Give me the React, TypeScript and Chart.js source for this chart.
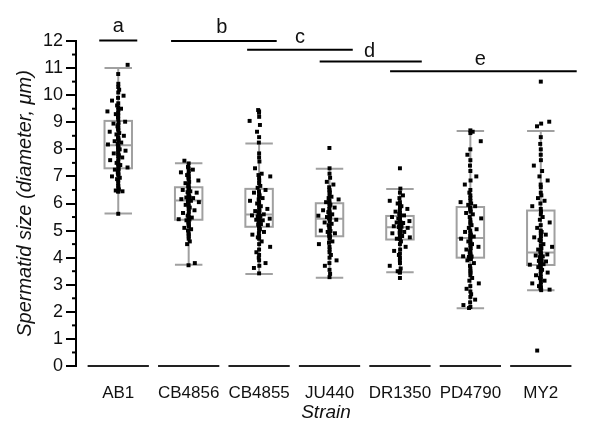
import React, { useEffect, useRef } from "react";
import { Chart, registerables } from "chart.js";

Chart.register(...registerables);

const strains = ["AB1", "CB4856", "CB4855", "JU440", "DR1350", "PD4790", "MY2"];

const ab1 = [11.12, 10.78, 10.42, 10.3, 10.2, 10.1, 9.98, 9.9, 9.8, 9.7, 9.62, 9.55, 9.5, 9.45, 9.4, 9.35, 9.3, 9.25, 9.18, 9.12,
  9.02, 8.98, 8.95, 8.9, 8.85, 8.8, 8.75, 8.7, 8.65, 8.6, 8.55, 8.5, 8.45, 8.42, 8.38, 8.33, 8.3, 8.25, 8.2, 8.18,
  8.12, 8.08, 8.05, 8.0, 7.98, 7.95, 7.9, 7.85, 7.82, 7.78, 7.75, 7.7, 7.65, 7.6, 7.55, 7.5, 7.45, 7.42, 7.38, 7.33,
  7.28, 7.25, 7.2, 7.15, 7.12, 7.08, 7.05, 7.0, 6.95, 6.9, 6.85, 6.75, 6.65, 6.6, 6.52, 6.48, 6.45, 6.45, 6.44, 5.62];
const cb4856 = [7.58, 7.48, 7.35, 7.3, 7.25, 7.2, 7.15, 7.1, 7.05, 7.0, 6.95, 6.9, 6.85, 6.8, 6.75, 6.7, 6.65,
  6.58, 6.55, 6.52, 6.5, 6.45, 6.42, 6.4, 6.35, 6.3, 6.28, 6.25, 6.22, 6.2, 6.18, 6.16, 6.15, 6.13, 6.12,
  6.1, 6.08, 6.05, 6.0, 5.95, 5.9, 5.85, 5.8, 5.75, 5.7, 5.65, 5.6, 5.55, 5.5, 5.48, 5.45, 5.42, 5.41,
  5.38, 5.35, 5.3, 5.25, 5.2, 5.15, 5.1, 5.05, 5.0, 4.9, 4.85, 4.78, 4.7, 4.6, 4.5, 3.8, 3.72];
const cb4855 = [9.45, 9.4, 9.35, 9.2, 9.05, 8.9, 8.65, 8.45, 8.25, 7.85, 7.7, 7.55, 7.3, 7.1, 7.05, 7.0, 6.95, 6.85, 6.75, 6.65, 6.58,
  6.5, 6.45, 6.4, 6.35, 6.3, 6.25, 6.2, 6.15, 6.1, 6.05, 6.0, 5.95, 5.9, 5.85, 5.8, 5.75, 5.72, 5.7, 5.66, 5.63, 5.6,
  5.58, 5.56, 5.54, 5.52, 5.5, 5.48, 5.46, 5.44, 5.42, 5.4, 5.38, 5.35, 5.32, 5.3, 5.28, 5.26, 5.24, 5.22, 5.2, 5.18, 5.16,
  5.1, 5.05, 5.0, 4.95, 4.9, 4.85, 4.8, 4.75, 4.7, 4.6, 4.5, 4.4, 4.3, 4.2, 4.1, 4.0, 3.9, 3.8, 3.7, 3.62, 3.42];
const ju440 = [8.05, 7.3, 7.1, 6.95, 6.8, 6.7, 6.6, 6.5, 6.45, 6.4, 6.3, 6.25, 6.2, 6.15, 6.1, 6.05,
  6.0, 5.95, 5.9, 5.85, 5.8, 5.75, 5.7, 5.68, 5.65, 5.6, 5.58, 5.55, 5.52, 5.5, 5.48, 5.46,
  5.42, 5.4, 5.35, 5.3, 5.25, 5.2, 5.15, 5.1, 5.05, 5.0, 4.98, 4.95, 4.9, 4.85, 4.82, 4.8,
  4.75, 4.7, 4.6, 4.55, 4.5, 4.4, 4.3, 4.2, 4.1, 4.0, 3.9, 3.8, 3.7, 3.55, 3.4, 3.28];
const dr1350 = [7.3, 6.55, 6.4, 6.3, 6.2, 6.1, 6.05, 6.0, 5.95, 5.9, 5.85, 5.8, 5.75, 5.7, 5.65, 5.62, 5.58, 5.56,
  5.52, 5.5, 5.48, 5.45, 5.42, 5.4, 5.38, 5.35, 5.32, 5.3, 5.28, 5.25, 5.22, 5.2, 5.18, 5.16, 5.14, 5.13,
  5.1, 5.08, 5.05, 5.02, 5.0, 4.98, 4.95, 4.92, 4.9, 4.88, 4.85, 4.82, 4.8, 4.78, 4.75, 4.72, 4.7, 4.68,
  4.6, 4.5, 4.4, 4.3, 4.25, 4.15, 4.1, 4.0, 3.9, 3.8, 3.7, 3.6, 3.5, 3.48, 3.46, 3.45, 3.25];
const pd4790 = [8.7, 8.65, 8.6, 8.3, 8.0, 7.8, 7.6, 7.4, 7.2, 7.0, 6.85, 6.7, 6.5, 6.4, 6.3, 6.2, 6.1, 6.05, 6.0, 5.95, 5.9,
  5.85, 5.8, 5.75, 5.7, 5.65, 5.6, 5.5, 5.45, 5.4, 5.3, 5.25, 5.2, 5.1, 5.05, 5.0, 4.95, 4.9, 4.85, 4.8, 4.78, 4.75,
  4.7, 4.65, 4.6, 4.55, 4.5, 4.45, 4.4, 4.35, 4.3, 4.25, 4.2, 4.15, 4.1, 4.08, 4.05, 4.04, 4.03, 4.02, 4.02, 4.01, 4.0,
  3.95, 3.9, 3.8, 3.7, 3.6, 3.5, 3.45, 3.35, 3.25, 3.15, 3.05, 2.95, 2.85, 2.75, 2.65, 2.55, 2.45, 2.35, 2.25, 2.18, 2.14];
const my2 = [10.5, 9.02, 8.95, 8.85, 8.45, 8.2, 8.0, 7.8, 7.6, 7.4, 7.2, 7.0, 6.85, 6.7, 6.6, 6.4, 6.3, 6.2, 6.1, 6.0, 5.9, 5.8,
  5.7, 5.6, 5.5, 5.4, 5.3, 5.2, 5.1, 5.0, 4.95, 4.9, 4.85, 4.8, 4.75, 4.7, 4.65, 4.6, 4.5, 4.45, 4.4, 4.35, 4.3, 4.25,
  4.18, 4.15, 4.12, 4.1, 4.08, 4.05, 4.02, 4.0, 3.98, 3.95, 3.92, 3.9, 3.88, 3.86, 3.84, 3.82, 3.8, 3.78, 3.77, 3.76, 3.75, 3.74,
  3.7, 3.65, 3.6, 3.55, 3.5, 3.45, 3.4, 3.35, 3.3, 3.25, 3.2, 3.15, 3.1, 3.05, 3.0, 2.95, 2.9, 2.88, 2.85, 2.82, 2.8, 0.57];

const groupValues = [ab1, cb4856, cb4855, ju440, dr1350, pd4790, my2];

// Box-plot statistics
const whiskerLow = [5.63, 3.74, 3.4, 3.26, 3.46, 2.13, 2.8];
const quartile1 = [7.3, 5.4, 5.14, 4.79, 4.67, 4.0, 3.73];
const medians = [8.15, 6.11, 5.59, 5.44, 5.12, 4.73, 4.19];
const quartile3 = [9.05, 6.6, 6.54, 6.01, 5.54, 5.87, 5.74];
const whiskerHigh = [11.0, 7.49, 8.22, 7.28, 6.54, 8.68, 8.68];

// Significance groups
const sigLetters = ["a", "b", "c", "d", "e"];
const sigStart = [-0.27, 0.75, 1.83, 2.86, 3.86];
const sigEnd = [0.27, 2.25, 3.33, 4.31, 6.51];
const sigLevel = [12.02, 12.0, 11.68, 11.24, 10.88];
const sigLetterX = [0, 1.47, 2.58, 3.57, 5.14];
const sigLetterLevel = [12.32, 12.28, 11.92, 11.4, 11.1];

const yTicks = [0, 1, 2, 3, 4, 5, 6, 7, 8, 9, 10, 11, 12];

const FONT = "'Liberation Sans', Arial, sans-serif";

// deterministic horizontal jitter (position only)
const jitter = (k: number) => {
  const h = Math.imul(k + 11, 2654435761) >>> 0;
  const u = ((h >>> 7) % 1000) / 999;
  const s = 2 * u - 1;
  return 0.16 * s * s * s * s * s;
};

const boxPlugin = {
  id: "boxes",
  beforeDatasetsDraw(chart: any) {
    const { ctx, scales } = chart;
    const x = scales.x, y = scales.y;
    const half = 0.195;
    ctx.save();
    ctx.strokeStyle = "#a0a0a0";
    ctx.lineWidth = 2;
    for (let i = 0; i < strains.length; i++) {
      const xl = x.getPixelForValue(i - half);
      const xr = x.getPixelForValue(i + half);
      const xc = x.getPixelForValue(i);
      const yq1 = y.getPixelForValue(quartile1[i]);
      const yq3 = y.getPixelForValue(quartile3[i]);
      const ym = y.getPixelForValue(medians[i]);
      const ylo = y.getPixelForValue(whiskerLow[i]);
      const yhi = y.getPixelForValue(whiskerHigh[i]);
      ctx.beginPath();
      ctx.moveTo(xc, yhi); ctx.lineTo(xc, ylo);
      ctx.moveTo(xl, yhi); ctx.lineTo(xr, yhi);
      ctx.moveTo(xl, ylo); ctx.lineTo(xr, ylo);
      ctx.moveTo(xl, ym); ctx.lineTo(xr, ym);
      ctx.stroke();
      ctx.strokeRect(xl, yq3, xr - xl, yq1 - yq3);
    }
    ctx.restore();
  },
  afterDraw(chart: any) {
    const { ctx, scales } = chart;
    const x = scales.x, y = scales.y;
    ctx.save();
    ctx.strokeStyle = "#222";
    ctx.lineWidth = 2;
    const y0 = y.getPixelForValue(0);
    for (let i = 0; i < strains.length; i++) {
      ctx.beginPath();
      ctx.moveTo(x.getPixelForValue(i - 0.435), y0);
      ctx.lineTo(x.getPixelForValue(i + 0.435), y0);
      ctx.stroke();
    }
    const ax = x.getPixelForValue(-0.6);
    ctx.strokeStyle = "#000";
    ctx.lineWidth = 2;
    for (let v = 0.5; v < 12; v += 1) {
      const py = y.getPixelForValue(v);
      ctx.beginPath();
      ctx.moveTo(ax - 4, py);
      ctx.lineTo(ax, py);
      ctx.stroke();
    }
    ctx.strokeStyle = "#000";
    ctx.lineWidth = 2;
    ctx.fillStyle = "#111";
    ctx.font = `20px ${FONT}`;
    ctx.textAlign = "center";
    ctx.textBaseline = "alphabetic";
    for (let i = 0; i < sigLetters.length; i++) {
      const py = y.getPixelForValue(sigLevel[i]);
      ctx.beginPath();
      ctx.moveTo(x.getPixelForValue(sigStart[i]), py);
      ctx.lineTo(x.getPixelForValue(sigEnd[i]), py);
      ctx.stroke();
      ctx.fillText(sigLetters[i], x.getPixelForValue(sigLetterX[i]), y.getPixelForValue(sigLetterLevel[i]));
    }
    ctx.restore();
  },
};

export default function App() {
  const ref = useRef<HTMLCanvasElement | null>(null);
  useEffect(() => {
    if (!ref.current) return;
    const datasets = groupValues.map((vals, i) => ({
      label: strains[i],
      data: vals.map((v, k) => ({ x: i + jitter(k + i * 131), y: v })),
      pointStyle: "rect" as const,
      pointRadius: 2.8,
      pointBorderWidth: 0,
      backgroundColor: "#000",
      borderColor: "#000",
      showLine: false,
    }));
    const chart = new Chart(ref.current, {
      type: "scatter",
      data: { datasets },
      plugins: [boxPlugin],
      options: {
        animation: false,
        responsive: false,
        events: [],
        layout: { padding: { top: 41, right: 24, left: 0, bottom: 0 } },
        plugins: { legend: { display: false }, tooltip: { enabled: false } },
        scales: {
          x: {
            type: "linear",
            min: -0.6,
            max: 6.5,
            afterBuildTicks: (s: any) => { s.ticks = strains.map((_, i) => ({ value: i })); },
            afterFit: (s: any) => { s.height = 65; },
            ticks: {
              callback: (v: any) => strains[Math.round(Number(v))] ?? "",
              font: { family: FONT, size: 17 },
              color: "#111",
              padding: 9,
              maxRotation: 0,
              autoSkip: false,
            },
            grid: { display: false },
            border: { display: false },
            title: {
              display: true,
              text: "Strain",
              font: { family: FONT, size: 19, style: "italic" },
              color: "#111",
              padding: { top: 0, bottom: 7 },
            },
          },
          y: {
            min: 0,
            max: 12,
            afterBuildTicks: (s: any) => { s.ticks = yTicks.map((v) => ({ value: v })); },
            afterFit: (s: any) => { s.width = 76; },
            ticks: {
              font: { family: FONT, size: 18 },
              color: "#111",
              padding: 3,
            },
            grid: { drawOnChartArea: false, drawTicks: true, tickLength: 10, color: "#000", lineWidth: 2 },
            border: { display: true, color: "#000", width: 2 },
            title: {
              display: true,
              text: "Spermatid size (diameter, μm)",
              font: { family: FONT, size: 20, style: "italic" },
              color: "#111",
              padding: { top: 13, bottom: 0 },
            },
          },
        },
      },
    });
    return () => chart.destroy();
  }, []);
  return (
    <div style={{ position: "absolute", left: 0, top: 0, width: 600, height: 431, background: "#fff" }}>
      <canvas ref={ref} width={600} height={431} style={{ width: 600, height: 431, display: "block" }} />
    </div>
  );
}
